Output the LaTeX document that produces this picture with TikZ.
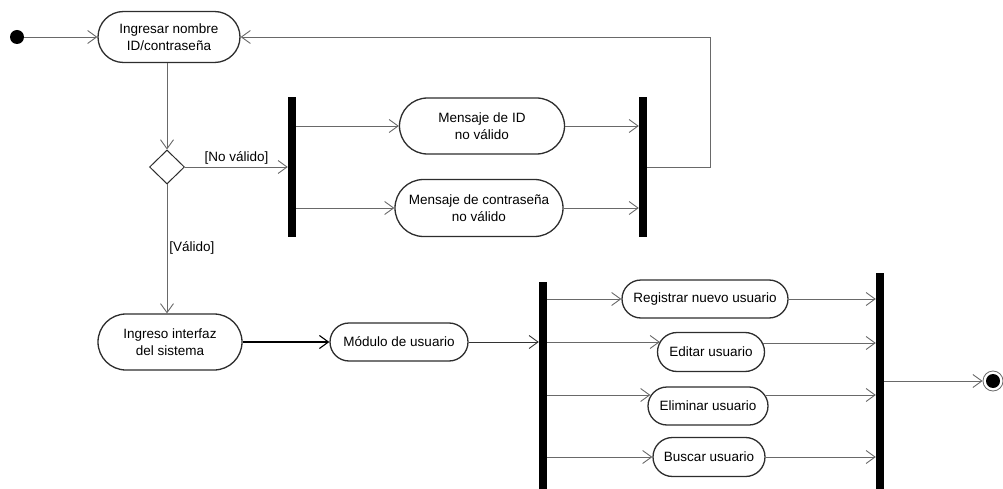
\documentclass[tikz,border=0pt]{standalone}
\usepackage{fontspec}
\setmainfont{Liberation Sans}
\usetikzlibrary{arrows.meta,shapes.misc,shapes.geometric,calc}
\definecolor{edgegray}{RGB}{105,105,105}
\definecolor{boxline}{RGB}{45,45,45}
\begin{document}
\begin{tikzpicture}[x=1pt,y=-1pt,
  act/.style={draw=boxline, line width=1.3pt, rounded rectangle, fill=white,
    align=center, inner sep=0pt, font=\fontsize{13.5}{17}\selectfont},
  bar/.style={fill=black, inner sep=0pt, minimum width=8pt},
  flow/.style={draw=edgegray, line width=0.9pt, -{Straight Barb[length=9pt,width=13pt]}},
  guard/.style={font=\fontsize{13.5}{17}\selectfont, inner sep=2pt}]
\useasboundingbox (0,0) rectangle (1003,489);

% initial state and login
\node[circle, fill=black, minimum size=14pt, inner sep=0pt] (start) at (17,37) {};
\node[act, minimum width=142pt, minimum height=51pt] (ingresar) at (169,37) {Ingresar nombre\\ID/contraseña};
\node[diamond, draw=boxline, line width=1pt, minimum width=35pt, minimum height=34pt, inner sep=0pt] (dec) at (167,167) {};

% invalid-credentials branch
\node[bar, minimum height=140pt] (fork1) at (292,167) {};
\node[act, minimum width=165pt, minimum height=56pt] (msgid) at (482,126) {Mensaje de ID\\no válido};
\node[act, minimum width=168pt, minimum height=57pt] (msgpw) at (479,208) {Mensaje de contraseña\\no válido};
\node[bar, minimum height=140pt] (join1) at (643,167) {};
\coordinate (loop) at (710,167);

% valid branch
\node[act, minimum width=144pt, minimum height=56pt] (interfaz) at (170,342) {Ingreso interfaz\\del sistema};
\node[act, minimum width=138pt, minimum height=38pt] (modulo) at (399,342) {Módulo de usuario};
\node[bar, minimum height=207pt] (fork2) at (543,385.5) {};
\node[act, minimum width=166pt, minimum height=38pt] (reg) at (705,299) {Registrar nuevo usuario};
\node[act, minimum width=107pt, minimum height=39pt] (edit) at (711,352) {Editar usuario};
\node[act, minimum width=120pt, minimum height=38pt] (elim) at (708,406) {Eliminar usuario};
\node[act, minimum width=112pt, minimum height=39pt] (busc) at (709,457) {Buscar usuario};
\node[bar, minimum height=216pt] (join2) at (880,381) {};

% final state
\node[circle, draw=edgegray, line width=0.8pt, fill=white, minimum size=20pt, inner sep=0pt] (final) at (993,381) {};
\node[circle, fill=black, minimum size=14pt, inner sep=0pt] (finaldot) at (final.center) {};

% connectors
\draw[flow] (start.east) -- (ingresar.west);
\draw[flow] (ingresar.south -| dec.north) -- (dec.north);
\draw[flow] (dec.east) -- node[above, guard] {[No válido]} (fork1.west);
\draw[flow] (dec.south) -- node[right, guard, pos=0.49] {[Válido]} (interfaz.north -| dec.south);

\draw[flow] (fork1.east |- msgid.west) -- (msgid.west);
\draw[flow] (fork1.east |- msgpw.west) -- (msgpw.west);
\draw[flow] (msgid.east) -- (join1.west |- msgid.east);
\draw[flow] (msgpw.east) -- (join1.west |- msgpw.east);
\draw[flow] (join1.east) -- (loop) |- (ingresar.east);

\draw[flow, draw=black, line width=1.1pt] (interfaz.east) -- (modulo.west);
\draw[flow, draw=black!80] (modulo.east) -- (fork2.west |- modulo.east);

\draw[flow] (fork2.east |- reg.west) -- (reg.west);
\draw[flow] (fork2.east |- modulo.east) -- ([xshift=3pt]edit.west |- modulo.east);
\draw[flow] ([yshift=11pt]elim.west -| fork2.east) -- ([yshift=11pt,xshift=3pt]elim.west);
\draw[flow] (fork2.east |- busc.west) -- (busc.west);

\draw[flow] (reg.east) -- (join2.west |- reg.east);
\draw[flow] ([yshift=9pt,xshift=-2pt]edit.east) -- ([yshift=9pt]edit.east -| join2.west);
\draw[flow] ([yshift=11pt,xshift=-3pt]elim.east) -- ([yshift=11pt]elim.east -| join2.west);
\draw[flow] (busc.east) -- (join2.west |- busc.east);

\draw[flow] (join2.east |- final.west) -- (final.west);
\end{tikzpicture}
\end{document}
